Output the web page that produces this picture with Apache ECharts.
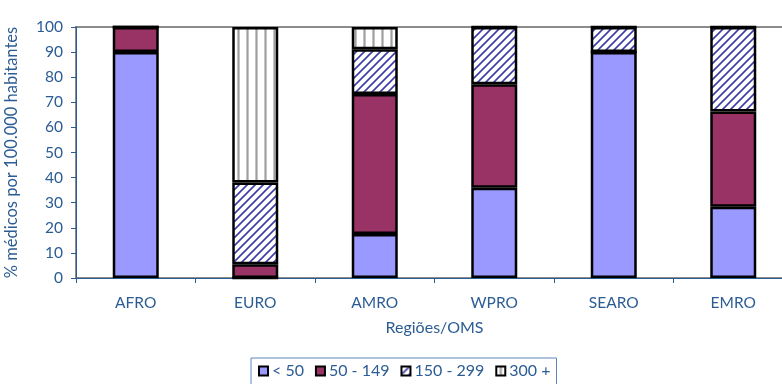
<!DOCTYPE html>
<html>
<head>
<meta charset="utf-8">
<script src="https://cdn.jsdelivr.net/npm/echarts@6/dist/echarts.min.js"></script>
<style>
  html, body { margin: 0; padding: 0; background: #fff; }
  #chart { width: 782px; height: 384px; }
</style>
</head>
<body>
<div id="chart"></div>
<script>
// Regions and the share of each density band (% of countries)
const categories = ['AFRO', 'EURO', 'AMRO', 'WPRO', 'SEARO', 'EMRO'];
const under50 = [90, 0, 17.5, 36, 90, 28.4];
const from50to149 = [10, 5.5, 55.8, 41.2, 0, 37.9];
const from150to299 = [0, 32.5, 17.8, 22.8, 10, 33.7];
const over300 = [0, 62, 8.9, 0, 0, 0];
const yTicks = [0, 10, 20, 30, 40, 50, 60, 70, 80, 90, 100];

const TEXT = '#2B5C93';
const FONT = 'Lato';

// Diagonal navy hatch on white
function diagonalHatch() {
  const s = 8;
  const c = document.createElement('canvas');
  c.width = s; c.height = s;
  const g = c.getContext('2d');
  g.fillStyle = '#ffffff';
  g.fillRect(0, 0, s, s);
  g.strokeStyle = '#3c3ca6';
  g.lineWidth = 1.6;
  g.beginPath();
  for (let k = -1; k <= 1; k++) {
    g.moveTo(k * s - 1, s + 1);
    g.lineTo(k * s + s + 1, -1);
  }
  g.stroke();
  return { image: c, repeat: 'repeat' };
}

// Vertical grey stripes on white
function verticalStripes() {
  const w = 9, h = 9;
  const c = document.createElement('canvas');
  c.width = w; c.height = h;
  const g = c.getContext('2d');
  g.fillStyle = '#ffffff';
  g.fillRect(0, 0, w, h);
  g.fillStyle = '#c4c4c4';
  g.fillRect(3, 0, 3, h);
  g.fillStyle = '#a0a0a0';
  g.fillRect(4, 0, 1, h);
  return { image: c, repeat: 'repeat' };
}

const chart = echarts.init(document.getElementById('chart'), null, { renderer: 'canvas' });

function barSeries(name, data, color) {
  return {
    name: name,
    type: 'bar',
    stack: 'total',
    data: data,
    barWidth: 46,
    itemStyle: { color: color, borderColor: '#000', borderWidth: 2.5 },
    emphasis: { disabled: true }
  };
}

chart.setOption({
  animation: false,
  grid: {
    left: 76, top: 27, right: -11, height: 251,
    outerBoundsMode: 'none',
    show: true, borderColor: '#8c8c8c', borderWidth: 2, backgroundColor: 'transparent'
  },
  legend: {
    left: 251, top: 358, width: 310,
    padding: [5, 6, 8, 7],
    borderColor: '#5b86bd', borderWidth: 1,
    itemWidth: 9, itemHeight: 9, itemGap: 11,
    icon: 'rect',
    textStyle: { color: TEXT, fontFamily: FONT, fontSize: 16, padding: [0, 0, 0, -1] },
    data: ['< 50', '50 - 149', '150 - 299', '300 +']
  },
  xAxis: {
    type: 'category',
    data: categories,
    boundaryGap: true,
    name: 'Regiões/OMS',
    nameLocation: 'middle',
    nameGap: 42,
    nameTextStyle: { color: TEXT, fontFamily: FONT, fontSize: 16 },
    axisLine: { lineStyle: { color: '#2B5C93', width: 1 } },
    axisTick: { show: true, length: 5, lineStyle: { color: '#2B5C93' } },
    axisLabel: { color: TEXT, fontFamily: FONT, fontSize: 15.5, margin: 17 }
  },
  yAxis: {
    type: 'value',
    min: yTicks[0], max: yTicks[yTicks.length - 1], interval: 10,
    name: '% médicos por 100.000 habitantes',
    nameLocation: 'middle',
    nameGap: 56,
    nameTextStyle: { color: TEXT, fontFamily: FONT, fontSize: 16.5 },
    axisLine: { show: true, lineStyle: { color: '#2B5C93', width: 1 } },
    axisTick: { show: true, length: 5, lineStyle: { color: '#2B5C93' } },
    splitLine: { show: false },
    axisLabel: { color: TEXT, fontFamily: FONT, fontSize: 15.5, margin: 13 }
  },
  series: [
    barSeries('< 50', under50, '#9999ff'),
    barSeries('50 - 149', from50to149, '#993366'),
    barSeries('150 - 299', from150to299, diagonalHatch()),
    barSeries('300 +', over300, verticalStripes())
  ]
});
</script>
</body>
</html>
